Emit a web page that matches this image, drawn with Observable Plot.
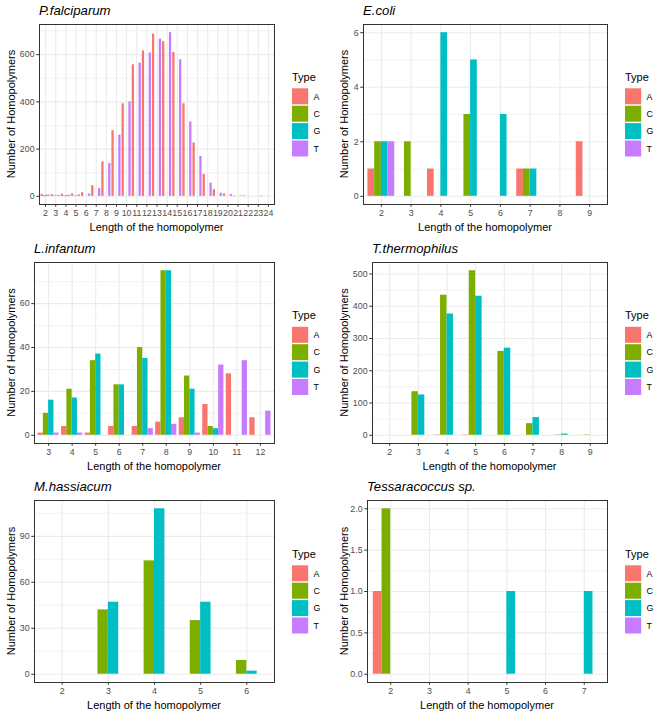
<!DOCTYPE html>
<html>
<head>
<meta charset="utf-8">
<script src="https://cdn.jsdelivr.net/npm/d3@7"></script>
<script src="https://cdn.jsdelivr.net/npm/@observablehq/plot@0.6"></script>
<style>
  body { margin: 0; background: #fff; }
  #grid { display: grid; grid-template-columns: 333px 333px; width: 666px; }
  svg { display: block; }
</style>
</head>
<body>
<div id="grid"></div>
<script>
// ---------- DATA ----------
const types = ["A", "C", "G", "T"];
const typeColors = ["#F8766D", "#7CAE00", "#00BFC4", "#C77CFF"];
const xTitle = "Length of the homopolymer";
const yTitle = "Number of Homopolymers";

// P.falciparum
const pfLengths = [2,3,4,5,6,7,8,9,10,11,12,13,14,15,16,17,18,19,20,21,22,23,24];
const pfA = [8,7,9,10,15,45,146,278,392,557,616,687,655,609,392,226,93,28,10,2,2,0,0];
const pfC = [3,2,2,1,0,0,0,0,0,0,0,0,0,0,0,0,0,0,0,0,0,0,0];
const pfG = [4,2,3,2,0,0,0,0,0,0,0,0,0,0,0,0,0,0,0,0,0,0,0];
const pfT = [5,4,5,6,10,33,139,259,400,564,607,666,693,578,315,169,56,13,8,2,0,2,0];
const pfYTicks = [0, 200, 400, 600];

// E.coli
const ecLengths = [2,3,4,5,6,7,8,9];
const ecA = [1,0,1,0,0,1,0,2];
const ecC = [2,2,0,3,0,1,0,0];
const ecG = [2,0,6,5,3,1,0,0];
const ecT = [2,0,0,0,0,0,0,0];
const ecYTicks = [0, 2, 4, 6];

// L.infantum
const liLengths = [3,4,5,6,7,8,9,10,11,12];
const liA = [1,4,1,4,4,6,8,14,28,8];
const liC = [10,21,34,23,40,75,27,4,0,0];
const liG = [16,17,37,23,35,75,21,3,0,0];
const liT = [1,1,0,0,3,5,1,32,34,11];
const liYTicks = [0, 20, 40, 60];

// T.thermophilus
const ttLengths = [2,3,4,5,6,7,8,9];
const ttA = [0,0,1,1,0,0,0,0];
const ttC = [0,135,434,510,260,36,1,1];
const ttG = [0,125,376,431,270,55,4,0];
const ttT = [0,0,0,0,0,0,0,0];
const ttYTicks = [0, 100, 200, 300, 400, 500];

// M.hassiacum
const mhLengths = [2,3,4,5,6];
const mhA = [0,0,0,0,0];
const mhC = [0,42,74,35,9];
const mhG = [0,47,108,47,2];
const mhT = [0,0,0,0,0];
const mhYTicks = [0, 30, 60, 90];

// Tessaracoccus sp.
const tsLengths = [2,3,4,5,6,7];
const tsA = [1,0,0,0,0,0];
const tsC = [2,0,0,0,0,0];
const tsG = [0,0,0,1,0,1];
const tsT = [0,0,0,0,0,0];
const tsYTicks = [0, 0.5, 1.0, 1.5, 2.0];

// ---------- LAYOUT ----------
const FONT = "'Liberation Sans', Arial, Helvetica, sans-serif";
const rows = [
  {h: 235, mt: 24, mb: 31},
  {h: 240, mt: 27, mb: 32},
  {h: 240, mt: 25, mb: 33}
];
const panels = [
  {title: "P.falciparum", lengths: pfLengths, s: {A: pfA, C: pfC, G: pfG, T: pfT}, yTicks: pfYTicks, fmt: d3.format("d"), ml: 39, row: 0},
  {title: "E.coli", lengths: ecLengths, s: {A: ecA, C: ecC, G: ecG, T: ecT}, yTicks: ecYTicks, fmt: d3.format("d"), ml: 30, row: 0},
  {title: "L.infantum", lengths: liLengths, s: {A: liA, C: liC, G: liG, T: liT}, yTicks: liYTicks, fmt: d3.format("d"), ml: 34, row: 1},
  {title: "T.thermophilus", lengths: ttLengths, s: {A: ttA, C: ttC, G: ttG, T: ttT}, yTicks: ttYTicks, fmt: d3.format("d"), ml: 39, row: 1},
  {title: "M.hassiacum", lengths: mhLengths, s: {A: mhA, C: mhC, G: mhG, T: mhT}, yTicks: mhYTicks, fmt: d3.format("d"), ml: 34, row: 2},
  {title: "Tessaracoccus sp.", lengths: tsLengths, s: {A: tsA, C: tsC, G: tsG, T: tsT}, yTicks: tsYTicks, fmt: d3.format(".1f"), ml: 34, row: 2}
];

const W = 333, MR = 59;
const dodge = 0.9 / types.length;

function makePanel(p) {
  const r = rows[p.row];
  const data = [];
  p.lengths.forEach((len, i) => types.forEach((t, k) => data.push({len, type: t, k, count: p.s[t][i]})));
  const ymax = d3.max(data, d => d.count);
  const yDomain = [-0.05 * ymax, 1.05 * ymax];
  const xDomain = [d3.min(p.lengths) - 0.6, d3.max(p.lengths) + 0.6];
  const step = p.yTicks[1] - p.yTicks[0];
  const minor = d3.range(p.yTicks[0] + step / 2, yDomain[1], step);

  const plot = Plot.plot({
    width: W, height: r.h,
    marginTop: r.mt, marginBottom: r.mb, marginLeft: p.ml, marginRight: MR,
    style: {fontFamily: FONT, background: "white", overflow: "visible"},
    x: {domain: xDomain, label: null},
    y: {domain: yDomain, label: null},
    color: {domain: types, range: typeColors},
    marks: [
      Plot.gridY(minor, {stroke: "#EBEBEB", strokeOpacity: 1, strokeWidth: 0.6}),
      Plot.gridY(p.yTicks, {stroke: "#EBEBEB", strokeOpacity: 1, strokeWidth: 1.1}),
      Plot.gridX(p.lengths, {stroke: "#EBEBEB", strokeOpacity: 1, strokeWidth: 1.1}),
      Plot.rect(data.filter(d => d.count > 0), {
        x1: d => d.len + (d.k - 1.5) * dodge - dodge / 2,
        x2: d => d.len + (d.k - 1.5) * dodge + dodge / 2,
        y1: 0, y2: "count", fill: "type"
      }),
      Plot.frame({stroke: "#333333", strokeWidth: 1}),
      Plot.axisX({ticks: p.lengths, tickFormat: d => String(d), tickSize: 2.75, tickPadding: 2.4,
                  fontSize: 8.8, color: "#4D4D4D", stroke: "#333333", label: null}),
      Plot.axisY({ticks: p.yTicks, tickFormat: p.fmt, tickSize: 2.75, tickPadding: 2.2,
                  fontSize: 8.8, color: "#4D4D4D", stroke: "#333333", label: null})
    ]
  });

  const svg = d3.select(plot);
  const pTop = r.mt, pBot = r.h - r.mb, pRight = W - MR;
  const pc = (pTop + pBot) / 2;

  // title
  svg.append("text").attr("x", p.ml).attr("y", pTop - 9).attr("text-anchor", "start")
    .attr("font-size", 13.2).attr("font-style", "italic").attr("fill", "#000").attr("font-family", FONT)
    .text(p.title);
  // x title
  svg.append("text").attr("x", (p.ml + pRight) / 2).attr("y", pBot + 26.5)
    .attr("text-anchor", "middle").attr("font-size", 11).attr("fill", "#000").attr("font-family", FONT)
    .text(xTitle);
  // y title
  svg.append("text").attr("transform", `translate(14.5,${pc}) rotate(-90)`)
    .attr("text-anchor", "middle").attr("font-size", 11).attr("fill", "#000").attr("font-family", FONT)
    .text(yTitle);

  // legend
  const color = plot.scale("color");
  const lg = svg.append("g").attr("font-family", FONT).attr("text-anchor", "start");
  lg.append("text").attr("x", 292).attr("y", pc - 33.4).attr("font-size", 11).attr("fill", "#000").text("Type");
  types.forEach((t, i) => {
    const y0 = pc - 25.7 + i * 17.4;
    lg.append("rect").attr("x", 292).attr("y", y0).attr("width", 16.2).attr("height", 16)
      .attr("fill", color.apply(t));
    lg.append("text").attr("x", 313.5).attr("y", y0 + 8 + 3.2).attr("font-size", 8.8).attr("fill", "#000").text(t);
  });
  return plot;
}

const grid = document.getElementById("grid");
panels.forEach(p => grid.appendChild(makePanel(p)));
</script>
</body>
</html>
